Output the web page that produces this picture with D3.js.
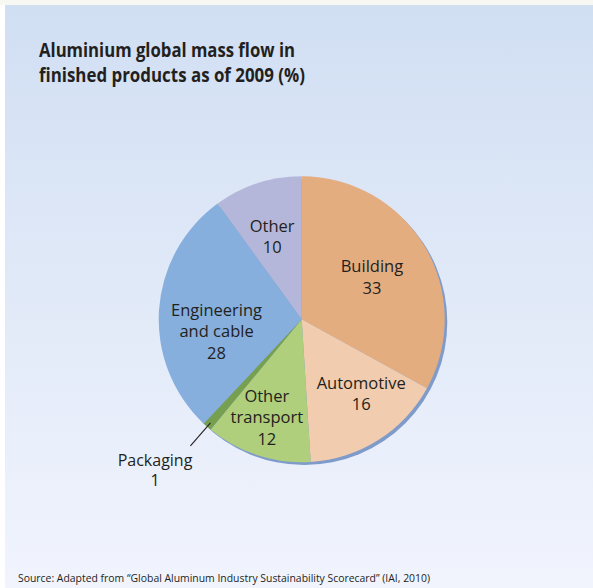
<!DOCTYPE html>
<html><head><meta charset="utf-8">
<script src="https://cdn.jsdelivr.net/npm/d3@7"></script>
<style>html,body{margin:0;padding:0;background:#fff;}svg{display:block;}</style>
</head><body>
<script>
// ---- data ----
const categories = ["Building", "Automotive", "Other transport", "Packaging", "Engineering and cable", "Other"];
const values = [33, 16, 12, 1, 28, 10];
const labelLines = [["Building", "33"], ["Automotive", "16"], ["Other", "transport", "12"], ["Packaging", "1"], ["Engineering", "and cable", "28"], ["Other", "10"]];
const titleLines = ["Aluminium global mass flow in", "finished products as of 2009 (%)"];
const sourceText = "Source: Adapted from \u201cGlobal Aluminum Industry Sustainability Scorecard\u201d (IAI, 2010)";

// ---- style ----
const colors = ["#E4AD80", "#F1CCAE", "#AFCF7C", "#76A04F", "#86AFDE", "#B4B7DA"];
// label placement: [radius, angle shift in degrees] relative to slice mid-angle
const labelPlace = [[82, -0.5], [95, -6.4], [104, 1.6], [null, 0], [86, -11.5], [88, -1.6]];

const W = 593, H = 588;
const cx = 301.7, cy = 319.3, R = 143;
const font = "'Open Sans', 'Noto Sans', sans-serif";
const textColor = "#231F20";

const svg = d3.select("body").append("svg").attr("width", W).attr("height", H);
const defs = svg.append("defs");
const grad = defs.append("linearGradient").attr("id", "bg").attr("x1", 0).attr("y1", 0).attr("x2", 0).attr("y2", 1);
grad.append("stop").attr("offset", 0).attr("stop-color", "#D1DFF3");
grad.append("stop").attr("offset", 1).attr("stop-color", "#F1F4FD");

svg.append("rect").attr("width", W).attr("height", 5).attr("fill", "#F8F8F3");
svg.append("rect").attr("x", 5).attr("y", 5).attr("width", W - 5).attr("height", H - 5).attr("fill", "url(#bg)");

// title
svg.append("g").selectAll("text").data(titleLines).join("text")
  .attr("x", 39).attr("y", (d, i) => 57 + i * 25)
  .attr("font-family", font).attr("font-weight", 700).attr("font-size", 20)
  .attr("fill", textColor)
  .attr("textLength", (d, i) => i === 0 ? 256 : 266)
  .attr("lengthAdjust", "spacingAndGlyphs")
  .text(d => d);

// pie
const pie = d3.pie().sort(null).value(d => d)(values);
const arc = d3.arc().innerRadius(0).outerRadius(R);
const g = svg.append("g").attr("transform", `translate(${cx},${cy})`);

// shadow
g.append("circle").attr("cx", 2.6).attr("cy", 2.8).attr("r", R).attr("fill", "#7F9BCA");

g.selectAll("path.slice").data(pie).join("path")
  .attr("class", "slice")
  .attr("d", arc)
  .attr("fill", (d, i) => colors[i]);

// labels
const lh = 21.5;
pie.forEach((d, i) => {
  const lines = labelLines[i];
  if (labelPlace[i][0] === null) return;
  const a = (d.startAngle + d.endAngle) / 2 + labelPlace[i][1] * Math.PI / 180;
  const r = labelPlace[i][0];
  const x = r * Math.sin(a);
  const yc = -r * Math.cos(a);
  const t = g.append("text").attr("text-anchor", "middle")
    .attr("font-family", font).attr("font-size", 16.5).attr("fill", textColor);
  lines.forEach((ln, k) => {
    t.append("tspan").attr("x", x).attr("y", yc - (lines.length - 1) * lh / 2 + 6 + k * lh).text(ln);
  });
});

// packaging leader + label
const pk = pie[3];
const pa = (pk.startAngle + pk.endAngle) / 2;
const p1 = [(R - 5) * Math.sin(pa), -(R - 5) * Math.cos(pa)];
g.append("line")
  .attr("x1", p1[0]).attr("y1", p1[1])
  .attr("x2", p1[0] - 20).attr("y2", p1[1] + 23)
  .attr("stroke", "#231F20").attr("stroke-width", 1.1);
const pt = g.append("text").attr("text-anchor", "middle")
  .attr("font-family", font).attr("font-size", 16).attr("fill", textColor);
labelLines[3].forEach((ln, k) => {
  pt.append("tspan").attr("x", 155 - cx).attr("y", 466 - cy + k * 20).text(ln);
});

// source
svg.append("text").attr("x", 18).attr("y", 582)
  .attr("font-family", font).attr("font-size", 11.5).attr("fill", textColor)
  .attr("textLength", 412).attr("lengthAdjust", "spacingAndGlyphs")
  .text(sourceText);
</script>
</body></html>
